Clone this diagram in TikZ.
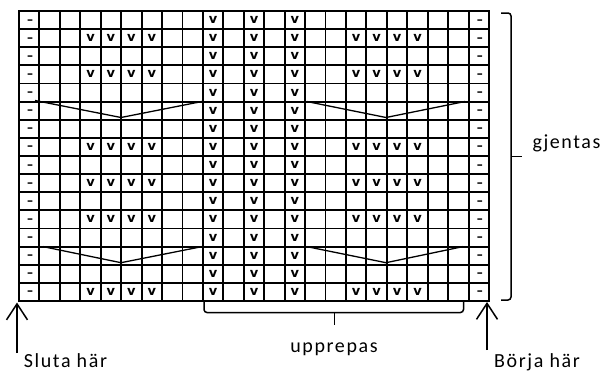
\documentclass[tikz,border=0pt]{standalone}
\usepackage{fontspec}
\setmainfont{Carlito}
\newfontfamily\lblfont[LetterSpace=8]{Carlito}
\newfontfamily\cellfont{DejaVu Sans}
\usetikzlibrary{arrows.meta}
\tikzset{
  gridline/.style={line width=1.9pt, line cap=rect},
  vline/.style={line width=1.3pt},
  vmark/.style={inner sep=0pt, font=\cellfont\bfseries\fontsize{13}{13}\selectfont},
  dmark/.style={inner sep=0pt, xshift=1pt, yshift=-2.2pt, font=\cellfont\fontsize{18}{18}\selectfont},
  lbl/.style={inner sep=0pt, anchor=base, font=\lblfont\fontsize{20}{20}\selectfont},
  brace/.style={line width=1.5pt, rounded corners=3pt},
  arr/.style={line width=1.5pt, -{Straight Barb[length=16pt,width=21pt]}}
}
\begin{document}
\begin{tikzpicture}[x=1pt,y=-1pt]
\useasboundingbox (0,0) rectangle (605,372);
\def\cw{20.435}
\def\rh{18.125}
% grid
\foreach \i in {0,...,23} \draw[gridline] ({19+\i*\cw},11) -- ({19+\i*\cw},301);
\foreach \j in {0,...,16} \draw[gridline] (19,{11+\j*\rh}) -- (489,{11+\j*\rh});
% dashes in edge columns
\foreach \r in {1,...,16} {
  \node[dmark] (dl-\r) at ({19+0.5*\cw},{11+(\r-0.5)*\rh}) {-};
  \node[dmark] (dr-\r) at ({19+22.5*\cw},{11+(\r-0.5)*\rh}) {-};
}
% v columns
\foreach \r in {1,...,16} {
  \foreach \c in {10,12,14}
    \node[vmark] (v-\c-\r) at ({19+(\c-0.5)*\cw},{11+(\r-0.5)*\rh}) {v};
}
% v groups
\foreach \r in {2,4,8,10,12,16} {
  \foreach \c in {4,5,6,7,17,18,19,20}
    \node[vmark] (v-\c-\r) at ({19+(\c-0.5)*\cw},{11+(\r-0.5)*\rh}) {v};
}
% V-shaped lines
\draw[vline] (35,100.5) -- (121,117.5) -- (202,101.5);
\draw[vline] (306.7,101.5) -- (386,117.5) -- (465,101.5);
\draw[vline] (43,246.6) -- (121,262.7) -- (202,246.6);
\draw[vline] (306.7,246.6) -- (386,262.7) -- (463,246.6);
% right brace
\coordinate (rb-top) at (501,13);
\coordinate (rb-bot) at (501,300);
\coordinate (rb-mid) at (522,156.5);
\draw[brace] (rb-top) -- (511,13) -- (511,300) -- (rb-bot);
\draw[line width=1.5pt] (511,156.5) -- (rb-mid);
% bottom brace
\coordinate (bb-l) at (204,301);
\coordinate (bb-r) at (463.5,301);
\coordinate (bb-mid) at (334.5,325);
\draw[brace] (bb-l) -- (204,312.5) -- (463.5,312.5) -- (bb-r);
\draw[line width=1.5pt] (334.5,312.5) -- (bb-mid);
% labels
\node[lbl] (gjentas) at (566.5,148) {gjentas};
\node[lbl] (upprepas) at (334,352) {upprepas};
\node[lbl] (sluta) at (65.5,367.5) {Sluta här};
\node[lbl] (borja) at (537,367.5) {Börja här};
% arrows
\coordinate (sl-foot) at (17,353);
\coordinate (sl-tip) at (17,302.5);
\coordinate (bo-foot) at (487,350);
\coordinate (bo-tip) at (487,302);
\draw[arr] (sl-foot) -- (sl-tip);
\draw[arr] (bo-foot) -- (bo-tip);
\end{tikzpicture}
\end{document}
